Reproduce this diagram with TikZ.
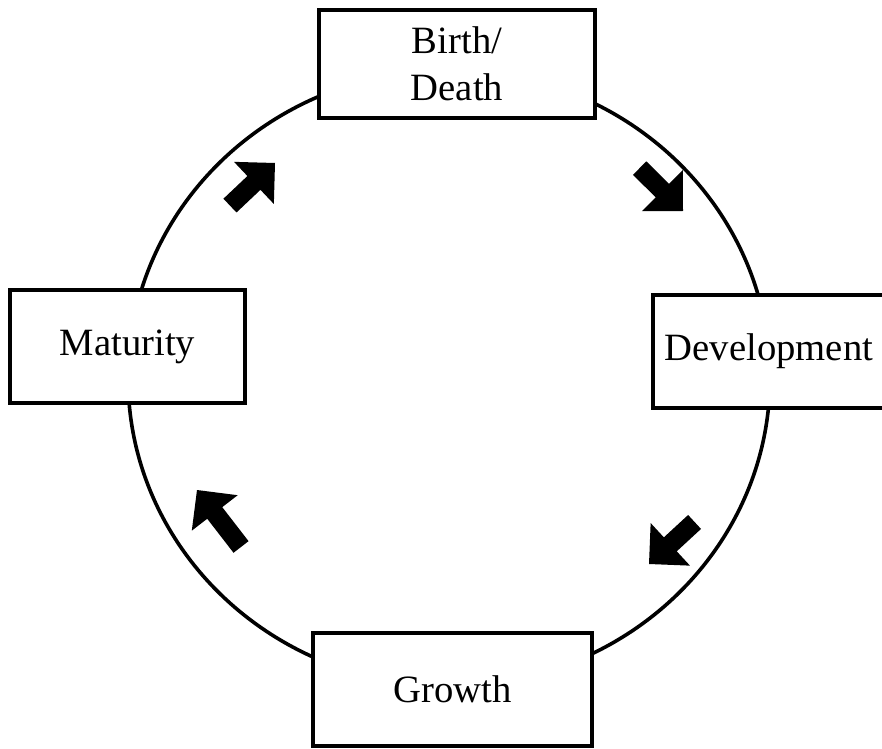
\documentclass[tikz,border=0pt]{standalone}
\usepackage{fontspec}
\setmainfont{Liberation Serif}
\tikzset{stage/.style={draw, line width=0.08cm, fill=white, minimum height=2.26cm, align=center, font=\fontsize{22}{26.5}\selectfont}}
\newcommand*\cyclearrow[3]{
            \fill[shift={(#1)}, rotate=#2] (0,0) -- (-29,29) -- (-29,9.5) -- (-#3,9.5) -- (-#3,-9.5) -- (-29,-9.5) -- (-29,-29) -- cycle;}

\begin{document}
\begin{tikzpicture}[x=0.02cm, y=0.02cm]
        \useasboundingbox (0,0) rectangle (882,748);
        \coordinate (hub) at (449,370);
        \draw[line width=0.072cm] (hub) ellipse [x radius=6.42cm, y radius=6.16cm];
        %
        \node[stage, minimum width=5.52cm, minimum height=2.16cm] (birth) at (457,684) {Birth/\\Death};
        \node[stage, minimum width=4.64cm] (development) at (769,396.5) {Development};
        \node[stage, minimum width=5.58cm] (growth) at (452.5,58.5) {Growth};
        \node[stage, minimum width=4.7cm] (maturity) at (127.5,401.5) {Maturity};
        %
        \cyclearrow{275,585}{43.4}{62}
        \cyclearrow{683,537}{-44.7}{61}
        \cyclearrow{649,184}{222.7}{62}
        \cyclearrow{197,258}{127.7}{72}
\end{tikzpicture}
\end{document}
